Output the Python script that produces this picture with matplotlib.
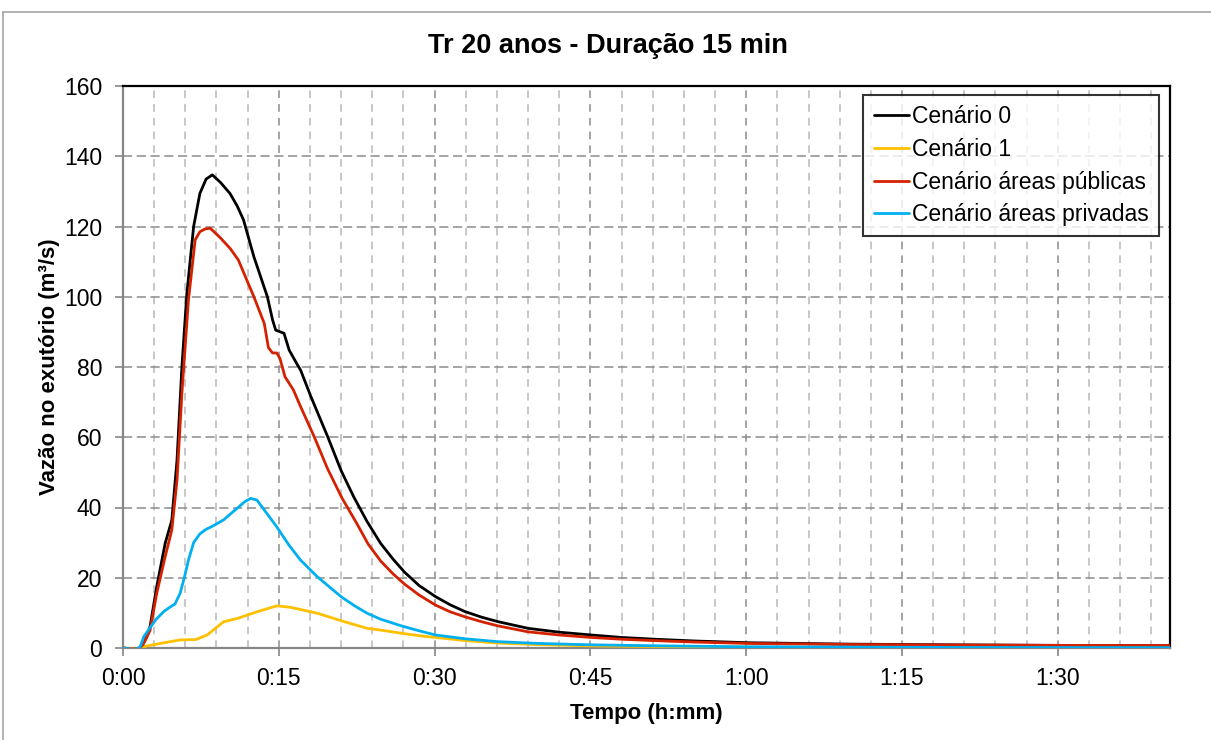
import matplotlib
matplotlib.use("Agg")
import matplotlib.pyplot as plt
from matplotlib.lines import Line2D

plt.rcParams['font.family'] = ['Liberation Sans', 'DejaVu Sans']

# ---------------- data (time in minutes, discharge in m3/s) ----------------
t_c0 = [0, 1.0, 1.6, 1.9, 2.2, 2.6, 3.25, 4.06, 4.7, 5.2, 5.67, 6.15, 6.8, 7.4, 8.0, 8.6, 9.4,
        10.3, 11.0, 11.6, 12.6, 13.9, 14.4, 14.7, 15.5, 16.0, 16.8, 17.1, 18.1, 19.7, 21.0,
        22.2, 23.5, 24.8, 26.0, 27.1, 28.5, 30.1, 31.5, 32.9, 34.5, 36.1, 39.0, 42.0, 45.1,
        48.0, 51.2, 55.0, 60.2, 70, 80, 90, 100.8]
v_c0 = [0, -0.3, 0, 1.0, 2.8, 6, 17.5, 29.8, 36.4, 53.5, 80, 101, 120, 129.4, 133.5, 134.7, 132.5,
        129.4, 125.8, 121.9, 111.4, 100, 93.4, 90.5, 89.6, 84.8, 80.6, 79.1, 71.5, 60.2, 50.5,
        43.1, 36, 29.8, 25.3, 21.6, 17.8, 14.6, 12.3, 10.4, 8.8, 7.5, 5.6, 4.5, 3.7,
        3.0, 2.5, 2.0, 1.5, 1.1, 0.9, 0.75, 0.65]

t_c1 = [0, 1.0, 1.6, 2.0, 3.6, 5.5, 7.0, 8.1, 9.7, 11.0, 12.9, 14.8, 16.1, 18.7, 21.3, 23.5,
        24.8, 26.8, 28.5, 30.1, 33.0, 36.1, 40.0, 45.1, 52.0, 60, 100.8]
v_c1 = [0, -0.2, 0, 0.4, 1.3, 2.3, 2.4, 3.7, 7.5, 8.4, 10.3, 12.0, 11.6, 9.9, 7.5, 5.6,
        5.1, 4.2, 3.5, 3.0, 2.1, 1.4, 0.95, 0.6, 0.4, 0.25, 0.1]

t_pub = [0, 1.0, 1.6, 1.9, 2.2, 2.6, 3.25, 4.06, 4.7, 5.2, 5.67, 6.3, 6.95, 7.4, 7.9, 8.4, 9.3,
         10.3, 11.1, 12.6, 13.6, 14.0, 14.4, 14.8, 15.1, 15.6, 16.4, 17.1, 18.4, 19.7, 21.1,
         22.5, 23.6, 24.8, 26.0, 27.1, 28.5, 30.1, 31.5, 32.9, 34.5, 36.1, 39.0, 42.0, 45.1,
         48.0, 51.2, 55.0, 60.2, 70, 80, 90, 100.8]
v_pub = [0, -0.3, 0, 0.9, 2.5, 5, 15.6, 26, 33.6, 47.8, 72.5, 99, 116.2, 118.5, 119.3, 119.5, 117,
         113.8, 110.5, 100, 92.4, 85.5, 84, 84, 82.5, 77.2, 73.5, 68.7, 60.2, 51, 42.6,
         35.5, 29.6, 24.8, 21.1, 18.2, 15.1, 12.2, 10.3, 8.9, 7.5, 6.3, 4.6, 3.7, 3.0,
         2.5, 2.1, 1.7, 1.3, 1.0, 0.85, 0.75, 0.7]

t_priv = [0, 1.0, 1.6, 1.8, 2.0, 2.6, 3.2, 3.9, 4.5, 5.0, 5.5, 5.9, 6.3, 6.8, 7.4, 8.0, 8.7,
          9.7, 10.4, 11.0, 11.7, 12.3, 12.9, 13.8, 14.8, 16.0, 17.1, 18.7, 21.0, 22.3, 23.5,
          24.8, 26.8, 28.5, 30.1, 33.0, 36.1, 40.0, 45.1, 52.0, 60, 80, 100.8]
v_priv = [0, -0.4, 0, 1.5, 3.2, 5.8, 8.2, 10.3, 11.6, 12.5, 15.6, 20, 25, 30, 32.5, 33.8, 34.8,
          36.5, 38.3, 39.8, 41.6, 42.6, 42.1, 38.5, 34.5, 29.2, 25, 20.3, 14.6, 12, 9.9,
          8.2, 6.3, 4.9, 3.7, 2.6, 1.8, 1.3, 0.9, 0.6, 0.35, 0.15, 0.1]

labels = ['Cenário 0', 'Cenário 1', 'Cenário áreas públicas', 'Cenário áreas privadas']
colors = ['#000000', '#FFC000', '#D42200', '#00B0F0']

x_ticks = [0, 15, 30, 45, 60, 75, 90]
x_ticklabels = ['0:00', '0:15', '0:30', '0:45', '1:00', '1:15', '1:30']
y_ticks = [0, 20, 40, 60, 80, 100, 120, 140, 160]
x_max = 100.8

title = 'Tr 20 anos - Duração 15 min'
xlabel = 'Tempo (h:mm)'
ylabel = 'Vazão no exutório (m³/s)'

# ---------------- figure ----------------
W, H = 1211, 740
fig = plt.figure(figsize=(W / 100, H / 100), dpi=100)
ax = fig.add_axes([123 / W, 1 - 648 / H, (1170 - 123) / W, (648 - 86) / H])

# outer chart-area border (top & left visible)
fig.add_artist(Line2D([3 / W, 3 / W], [0, 1 - 12 / H], color='#a6a6a6', lw=1.2,
                      transform=fig.transFigure))
fig.add_artist(Line2D([3 / W, 1], [1 - 12 / H, 1 - 12 / H], color='#a6a6a6', lw=1.2,
                      transform=fig.transFigure))

# grid
minor_x = [m for m in range(3, 100, 3) if m % 15 != 0]
for m in minor_x:
    ax.axvline(m, color='#b8b8b8', lw=1.1, ls=(0, (5, 4)), zorder=1)
for m in x_ticks[1:]:
    ax.axvline(m, color='#8c8c8c', lw=1.1, ls=(0, (5, 4)), zorder=1)
for v in y_ticks[1:-1]:
    ax.axhline(v, color='#8c8c8c', lw=1.1, ls=(0, (6, 3)), zorder=1)

series = [(t_c0, v_c0), (t_c1, v_c1), (t_pub, v_pub), (t_priv, v_priv)]
for (t, v), lab, c in zip(series, labels, colors):
    ax.plot(t, v, color=c, lw=2.0, label=lab, zorder=3, solid_joinstyle='round',
            solid_capstyle='round')

ax.set_xlim(0, x_max)
ax.set_ylim(0, 160)
ax.set_xticks(x_ticks)
ax.set_xticklabels(x_ticklabels)
ax.set_yticks(y_ticks)

for s in ['top', 'right']:
    ax.spines[s].set_color('black')
    ax.spines[s].set_linewidth(1.6)
for s in ['left', 'bottom']:
    ax.spines[s].set_color('#868686')
    ax.spines[s].set_linewidth(1.6)

ax.tick_params(axis='both', direction='out', length=6, width=1.2, color='#868686',
               labelsize=16.5, pad=8)
ax.tick_params(axis='y', pad=9)

fig.text(608 / W, 1 - 46 / H, title, fontsize=19.5, fontweight='bold',
         ha='center', va='center')
ax.set_xlabel(xlabel, fontsize=16, fontweight='bold', labelpad=9)
ax.set_ylabel(ylabel, fontsize=16, fontweight='bold', labelpad=3)

leg = ax.legend(loc='upper right', bbox_to_anchor=(0.9895, 0.984), borderaxespad=0,
                fontsize=16.5, frameon=True, fancybox=False, handlelength=1.55,
                handletextpad=0.12, labelspacing=0.42, borderpad=0.45)
leg.get_frame().set_edgecolor('black')
leg.get_frame().set_linewidth(1.5)
leg.set_zorder(5)

fig.savefig('out.png', dpi=100)
